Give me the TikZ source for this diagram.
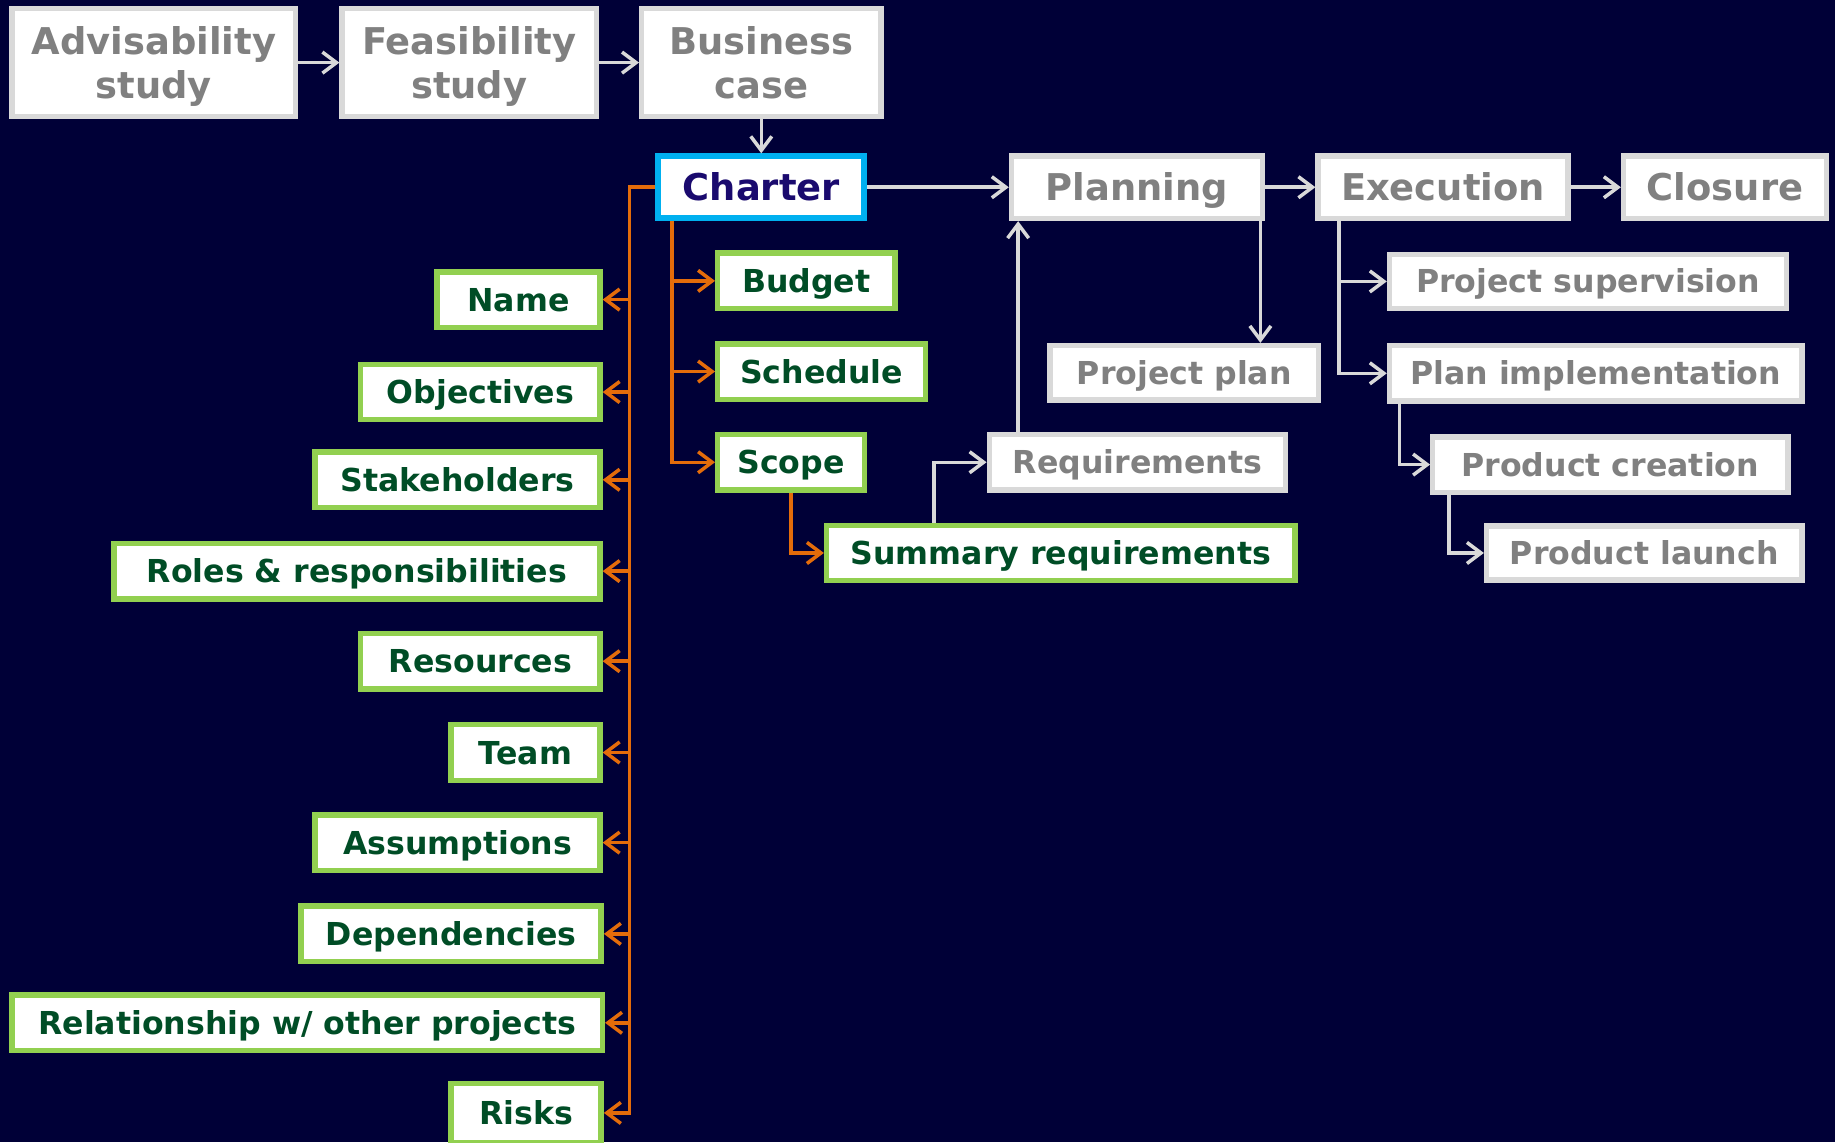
\documentclass[tikz,border=0pt]{standalone}
\usepackage{fontspec}
\setmainfont{DejaVu Sans}
\usetikzlibrary{arrows.meta}
\definecolor{bg}{RGB}{0,0,55}
\definecolor{gbord}{RGB}{217,217,217}
\definecolor{gtext}{RGB}{128,128,128}
\definecolor{lgreen}{RGB}{146,208,80}
\definecolor{dgreen}{RGB}{0,77,38}
\definecolor{cyanb}{RGB}{0,176,240}
\definecolor{indig}{RGB}{26,10,110}
\definecolor{orng}{RGB}{228,108,10}
\tikzset{
  bigtxt/.style={font=\bfseries\fontsize{31.5}{38}\selectfont},
  smalltxt/.style={font=\bfseries\fontsize{27}{32}\selectfont},
  twobig/.style={bigtxt, align=center, text depth=0pt},
  onebig/.style={bigtxt, text height=23pt, text depth=0pt},
  onesmall/.style={smalltxt, text height=19.7pt, text depth=0pt},
  graybox/.style={draw=gbord, fill=white, line width=4.6pt, inner sep=0pt, text=gtext},
  greenbox/.style={draw=lgreen, fill=white, line width=4.6pt, inner sep=0pt, text=dgreen, onesmall, minimum height=47.4pt},
  bluebox/.style={draw=cyanb, fill=white, line width=5pt, inner sep=0pt, text=indig},
  glink/.style={draw=gbord, line width=3pt, -{Straight Barb[length=12pt,width=18pt]}},
  olink/.style={draw=orng, line width=3pt, -{Straight Barb[length=12pt,width=18pt]}},
}
\begin{document}
\begin{tikzpicture}[x=1pt,y=-1pt]
\useasboundingbox (0,0) rectangle (1568,976);
\clip (0,0) rectangle (1568,976);
\fill[bg] (0,0) rectangle (1568,976);

% top row
\node[graybox,twobig,minimum width=242.4pt,minimum height=92.4pt] (adv) at (131.5,53.5) {Advisability\\study};
\node[graybox,twobig,minimum width=217.4pt,minimum height=92.4pt] (feas) at (401,53.5) {Feasibility\\study};
\node[graybox,twobig,minimum width=204.4pt,minimum height=92.4pt] (bus) at (650.5,53.5) {Business\\case};

% second row
\node[bluebox,onebig,minimum width=176pt,minimum height=53pt] (charter) at (650.5,160) {Charter};
\node[graybox,onebig,minimum width=214.4pt,minimum height=53.4pt] (planning) at (971.5,160) {Planning};
\node[graybox,onebig,minimum width=213.4pt,minimum height=53.4pt] (execution) at (1233,160) {Execution};
\node[graybox,onebig,minimum width=173.4pt,minimum height=53.4pt] (closure) at (1474,160) {Closure};

% charter children
\node[greenbox,minimum width=151.4pt] (budget) at (689,240) {Budget};
\node[greenbox,minimum width=177.4pt] (schedule) at (702,317.5) {Schedule};
\node[greenbox,minimum width=125.4pt] (scope) at (676,395) {Scope};
\node[greenbox,minimum width=400.4pt] (summary) at (906.5,472.5) {Summary requirements};

% planning related
\node[graybox,onesmall,minimum width=253.4pt,minimum height=47.4pt] (requirements) at (972,395) {Requirements};
\node[graybox,onesmall,minimum width=229.4pt,minimum height=46.4pt] (projplan) at (1012,318.5) {Project plan};

% execution related
\node[graybox,onesmall,minimum width=339.4pt,minimum height=46.4pt] (supervision) at (1357,240.5) {Project supervision};
\node[graybox,onesmall,minimum width=352.4pt,minimum height=47.4pt] (implementation) at (1363.5,319) {Plan implementation};
\node[graybox,onesmall,minimum width=303.4pt,minimum height=47.4pt] (creation) at (1376,397) {Product creation};
\node[graybox,onesmall,minimum width=269.4pt,minimum height=46.4pt] (launch) at (1405,472.5) {Product launch};

% left column
\node[greenbox,anchor=east,minimum width=139.4pt] (name) at (515,256) {Name};
\node[greenbox,anchor=east,minimum width=204.4pt] (objectives) at (515,335) {Objectives};
\node[greenbox,anchor=east,minimum width=243.4pt] (stakeholders) at (515,410) {Stakeholders};
\node[greenbox,anchor=east,minimum width=415.4pt] (roles) at (515,488) {Roles \& responsibilities};
\node[greenbox,anchor=east,minimum width=204.4pt] (resources) at (515,565) {Resources};
\node[greenbox,anchor=east,minimum width=127.4pt] (team) at (515,643) {Team};
\node[greenbox,anchor=east,minimum width=243.4pt] (assumptions) at (515,720) {Assumptions};
\node[greenbox,anchor=east,minimum width=256.4pt] (dependencies) at (516,798) {Dependencies};
\node[greenbox,anchor=east,minimum width=504.4pt] (relationship) at (517,874) {Relationship w/ other projects};
\node[greenbox,anchor=east,minimum width=128.4pt,minimum height=50.5pt] (risks) at (516,951) {Risks};

% coordinates for trunks
\coordinate (lt) at (538,0);
\coordinate (ct) at (574,0);
\coordinate (sr) at (798,0);
\coordinate (rq) at (870,0);
\coordinate (pp) at (1077,0);
\coordinate (et) at (1144,0);
\coordinate (it) at (1196,0);
\coordinate (pt) at (1238,0);

% gray connectors
\draw[glink] (adv) -- (feas);
\draw[glink] (feas) -- (bus);
\draw[glink] (bus) -- (charter);
\draw[glink] (charter) -- (planning);
\draw[glink] (planning) -- (execution);
\draw[glink] (execution) -- (closure);
\draw[glink] (planning.south -| pp) -- (projplan.north -| pp);
\draw[glink] (requirements.north -| rq) -- (planning.south -| rq);
\draw[glink] (summary.north -| sr) |- (requirements.west);
\draw[glink] (execution.south -| et) |- (implementation.west);
\draw[glink] (et |- supervision.west) -- (supervision.west);
\draw[glink] (implementation.south -| it) |- (creation.west);
\draw[glink] (creation.south -| pt) |- (launch.west);

% orange connectors
\draw[olink] (charter.south -| ct) |- (scope.west);
\draw[olink] (ct |- budget.west) -- (budget.west);
\draw[olink] (ct |- schedule.west) -- (schedule.west);
\draw[olink] (scope.south) |- (summary.west);
\draw[olink] (charter.west) -| (lt |- risks.east) -- (risks.east);
\foreach \n in {name,objectives,stakeholders,roles,resources,team,assumptions,dependencies,relationship}
  \draw[olink] (lt |- \n.east) -- (\n.east);
\end{tikzpicture}
\end{document}
